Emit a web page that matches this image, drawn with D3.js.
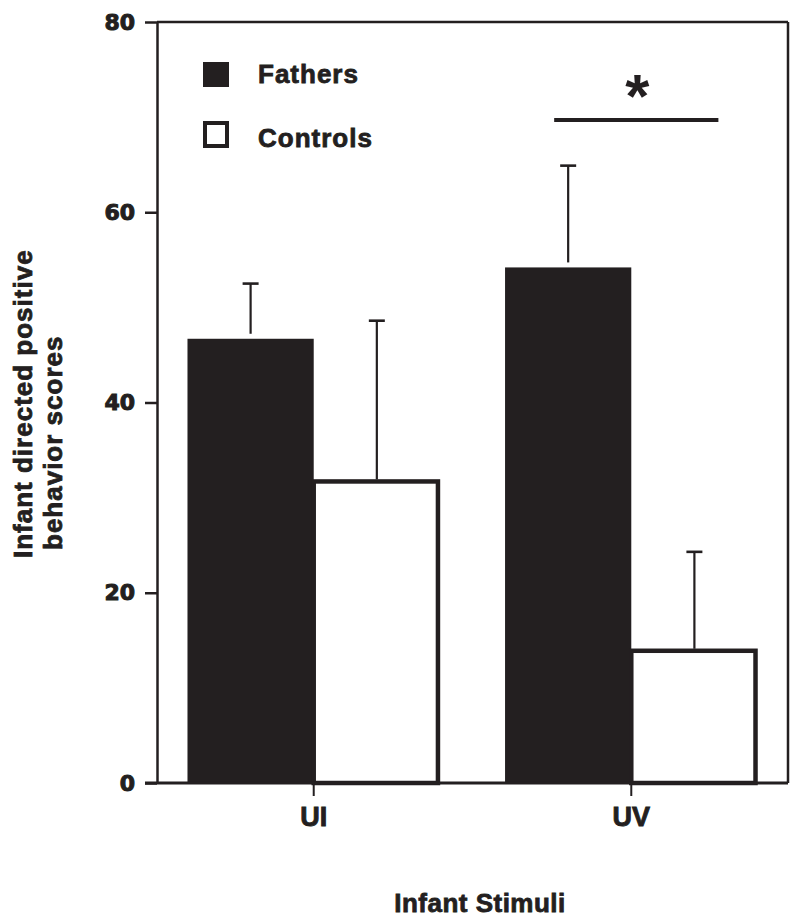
<!DOCTYPE html>
<html>
<head>
<meta charset="utf-8">
<script src="https://cdn.jsdelivr.net/npm/d3@7"></script>
<style>
  html, body { margin: 0; padding: 0; background: #fff; }
  svg { display: block; }
</style>
</head>
<body>
<svg id="chart" width="800" height="924"></svg>
<script>
// ---- data ----
const categories = ["UI", "UV"];
const seriesNames = ["Fathers", "Controls"];
const fathersMean = [46.7, 54.2];
const fathersSE = [5.8, 10.7];
const controlsMean = [31.7, 13.9];
const controlsSE = [16.9, 10.4];
const yTicks = [0, 20, 40, 60, 80];
const yTitleLines = ["Infant directed positive", "behavior scores"];
const xTitle = "Infant Stimuli";
const sigValue = 69.7;
const sigLabel = "*";

(function () {
// ---- layout ----
const ink = "#231f20";
const svg = d3.select("#chart");
const pLeft = 157, pRight = 788, pTop = 22, pBottom = 783;

const y = d3.scaleLinear().domain([0, 80]).range([pBottom, pTop]);
const x0 = d3.scaleBand().domain(categories).range([pLeft, pRight])
  .paddingInner(0.205).paddingOuter(0.096);
const x1 = d3.scaleBand().domain(seriesNames).range([0, x0.bandwidth()]).padding(0);

const rows = categories.map((c, i) => ({
  cat: c,
  vals: [
    { s: "Fathers", m: fathersMean[i], se: fathersSE[i] },
    { s: "Controls", m: controlsMean[i], se: controlsSE[i] }
  ]
}));

// frame (top and right)
svg.append("line").attr("x1", pLeft).attr("x2", pRight).attr("y1", pTop).attr("y2", pTop)
  .attr("stroke", ink).attr("stroke-width", 2.5);
svg.append("line").attr("x1", pRight).attr("x2", pRight).attr("y1", pTop).attr("y2", pBottom)
  .attr("stroke", ink).attr("stroke-width", 2.5);

// bars
const g = svg.append("g");
const groups = g.selectAll("g.grp").data(rows).join("g").attr("class", "grp")
  .attr("transform", d => `translate(${x0(d.cat)},0)`);

groups.selectAll("rect").data(d => d.vals).join("rect")
  .attr("x", d => x1(d.s))
  .attr("y", d => y(d.m))
  .attr("width", d => d.s === "Fathers" ? x1.bandwidth() : x1.bandwidth() - 2)
  .attr("height", d => y(0) - y(d.m))
  .attr("fill", d => d.s === "Fathers" ? ink : "#fff")
  .attr("stroke", d => d.s === "Fathers" ? "none" : ink)
  .attr("stroke-width", 4.5);

// error bars
const eb = groups.selectAll("g.eb").data(d => d.vals).join("g").attr("class", "eb");
eb.append("line")
  .attr("x1", d => x1(d.s) + x1.bandwidth() / 2)
  .attr("x2", d => x1(d.s) + x1.bandwidth() / 2)
  .attr("y1", d => y(d.m) - (d.s === "Fathers" ? 5 : 2))
  .attr("y2", d => y(d.m + d.se))
  .attr("stroke", ink).attr("stroke-width", 2.2);
eb.append("line")
  .attr("x1", d => x1(d.s) + x1.bandwidth() / 2 - 8)
  .attr("x2", d => x1(d.s) + x1.bandwidth() / 2 + 8)
  .attr("y1", d => y(d.m + d.se))
  .attr("y2", d => y(d.m + d.se))
  .attr("stroke", ink).attr("stroke-width", 2.6);

// y axis
const yAxis = svg.append("g").attr("transform", `translate(${pLeft},0)`)
  .call(d3.axisLeft(y).tickValues(yTicks).tickSize(12).tickSizeOuter(0).tickPadding(10));
yAxis.select(".domain").attr("stroke", ink).attr("stroke-width", 2.5);
yAxis.selectAll(".tick line").attr("stroke", ink).attr("stroke-width", 2.5);
yAxis.selectAll(".tick text")
  .attr("fill", ink)
  .attr("stroke", ink).attr("stroke-width", 1)
  .style("font-family", "'DejaVu Sans', sans-serif")
  .style("font-weight", "bold")
  .style("font-size", "22px");

// x axis
const xAxis = svg.append("g").attr("transform", `translate(0,${pBottom})`)
  .call(d3.axisBottom(x0).tickSize(13).tickSizeOuter(0).tickPadding(11));
xAxis.select(".domain").attr("d", `M${pLeft - 12},0H${pRight}`).attr("stroke", ink).attr("stroke-width", 3);
xAxis.selectAll(".tick line").attr("stroke", ink).attr("stroke-width", 2);
xAxis.selectAll(".tick text")
  .attr("fill", ink)
  .attr("stroke", ink).attr("stroke-width", 0.9)
  .style("font-family", "'Liberation Sans', Arial, sans-serif")
  .style("font-weight", "bold")
  .style("font-size", "27px");

// text style
const txt = (sel) => sel.attr("fill", ink)
  .attr("stroke", ink).attr("stroke-width", 0.8)
  .style("font-family", "'Liberation Sans', Arial, sans-serif")
  .style("font-weight", "bold")
  .style("font-size", "26px")
  .style("letter-spacing", "1px");

// axis titles
svg.append("text").attr("transform", "translate(32,558) rotate(-90)")
  .attr("text-anchor", "start").text(yTitleLines[0]).call(txt);
svg.append("text").attr("transform", "translate(62,550) rotate(-90)")
  .attr("text-anchor", "start").text(yTitleLines[1]).call(txt);

svg.append("text").attr("x", 480).attr("y", 912).attr("text-anchor", "middle")
  .text(xTitle).call(txt).style("letter-spacing", "0.5px");

// legend
const legend = svg.append("g");
seriesNames.forEach((s, i) => {
  const yy = [62, 121][i];
  legend.append("rect")
    .attr("x", s === "Fathers" ? 203 : 205)
    .attr("y", s === "Fathers" ? yy : yy + 2)
    .attr("width", s === "Fathers" ? 26 : 22)
    .attr("height", s === "Fathers" ? 25 : 23)
    .attr("fill", s === "Fathers" ? ink : "#fff")
    .attr("stroke", s === "Fathers" ? "none" : ink)
    .attr("stroke-width", 4);
  legend.append("text").attr("x", 258).attr("y", [83, 147][i]).text(s).call(txt);
});

// significance marker
const uvX = x0("UV");
const sx1 = uvX + x1("Fathers") + x1.bandwidth() / 2 - 14;
const sx2 = uvX + x1("Controls") + x1.bandwidth() / 2 + 24;
svg.append("line").attr("x1", sx1).attr("x2", sx2)
  .attr("y1", y(sigValue)).attr("y2", y(sigValue))
  .attr("stroke", ink).attr("stroke-width", 4);
svg.append("text").attr("x", (sx1 + sx2) / 2 + 1).attr("y", y(sigValue) - 3)
  .attr("text-anchor", "middle").text(sigLabel)
  .attr("fill", ink)
  .style("font-family", "'Liberation Sans', Arial, sans-serif")
  .style("font-weight", "bold")
  .style("font-size", "62px");
})();
</script>
</body>
</html>
